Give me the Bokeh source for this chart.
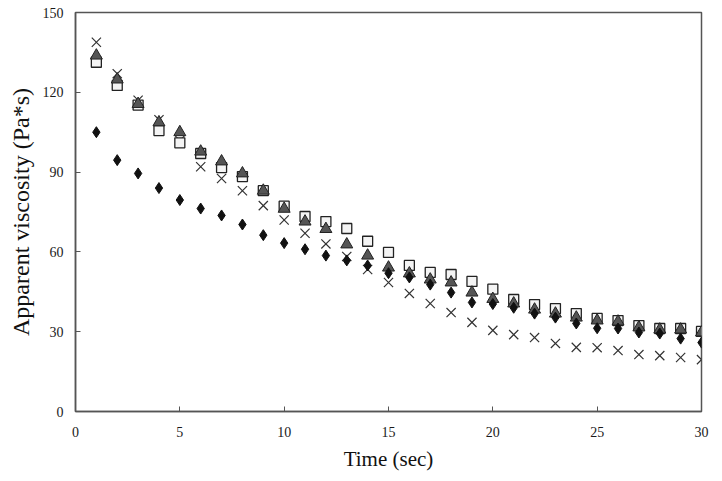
from bokeh.plotting import figure
from bokeh.models import FixedTicker, Range1d
from bokeh.embed import file_html
from bokeh.resources import INLINE

time = list(range(1, 31))
diamond = [105, 94.5, 89.5, 84, 79.5, 76.3, 73.7, 70.3, 66.3, 63.3, 61, 58.6, 56.8, 54.9, 52, 50.4, 47.7, 44.7, 41, 40.4,
           39, 36.8, 35.3, 33.1, 31.3, 31.2, 29.7, 29.3, 27.4, 25.9]
triangle = [133.8, 124.8, 115.6, 108.7, 105, 97.7, 94, 89.5, 83, 76.2, 71.4, 68.6, 62.8, 58.6, 54.1, 51.9, 49.6, 48.5, 44.7, 42.3,
            40.6, 38.3, 36.8, 35.3, 34.2, 33.8, 31.6, 30.8, 30.8, 29.7]
square = [131.3, 122.6, 115.2, 105.6, 101, 97, 91.7, 88.3, 83, 77.2, 73.3, 71.4, 68.8, 64, 59.8, 54.9, 52.3, 51.5, 48.9, 46,
          42.1, 40.2, 38.7, 36.8, 35, 34.2, 32.3, 31.2, 31.2, 30.1]
cross = [138.8, 127, 117, 109.7, 101.9, 92, 87.6, 83, 77.4, 72, 67, 63, 58.3, 53.4, 48.5, 44.4, 40.6, 37.2, 33.5, 30.5,
         28.9, 27.8, 25.6, 24.1, 24, 22.9, 21.4, 21, 20.3, 19.5]
x_ticks = [0, 5, 10, 15, 20, 25, 30]
y_ticks = [0, 30, 60, 90, 120, 150]

FONT = "Liberation Serif"

p = figure(width=722, height=481, output_backend="svg", toolbar_location=None,
           x_range=Range1d(0, 30), y_range=Range1d(0, 150),
           min_border_left=75, min_border_right=21, min_border_top=12, min_border_bottom=70)
p.background_fill_color = "white"
p.border_fill_color = "white"
p.xgrid.visible = False
p.ygrid.visible = False
p.outline_line_color = "#555555"
p.outline_line_width = 1.5

p.xaxis.ticker = FixedTicker(ticks=x_ticks)
p.yaxis.ticker = FixedTicker(ticks=y_ticks)
for ax in (p.xaxis, p.yaxis):
    ax.axis_line_color = "#555555"
    ax.axis_line_width = 1.5
    ax.major_tick_in = 5
    ax.major_tick_out = 0
    ax.major_tick_line_color = "#555555"
    ax.minor_tick_line_color = None
    ax.major_label_text_font = FONT
    ax.major_label_text_font_size = "14px"
    ax.major_label_text_color = "#1a1a1a"
    ax.axis_label_text_font = FONT
    ax.axis_label_text_font_style = "normal"
    ax.axis_label_text_color = "#111111"
p.xaxis.axis_label_text_font_size = "21px"
p.yaxis.axis_label_text_font_size = "24px"
p.xaxis.major_label_standoff = 15
p.yaxis.major_label_standoff = 12
p.xaxis.axis_label = "Time (sec)"
p.yaxis.axis_label = "Apparent viscosity (Pa*s)"
p.xaxis.axis_label_standoff = 7
p.yaxis.axis_label_standoff = 6

p.scatter(time, cross, marker="x", size=13, line_color="#333333", line_width=1.2)
p.scatter(time, square, marker="square", size=10, fill_color="#f4f4f4", line_color="#222222", line_width=1.3)
p.scatter(time, triangle, marker="triangle", size=12, fill_color="#555555", line_color="#222222", line_width=1)
p.scatter(time, diamond, marker="diamond", size=11, fill_color="#111111", line_color="#111111")

open("out.html", "w").write(file_html(p, INLINE))
